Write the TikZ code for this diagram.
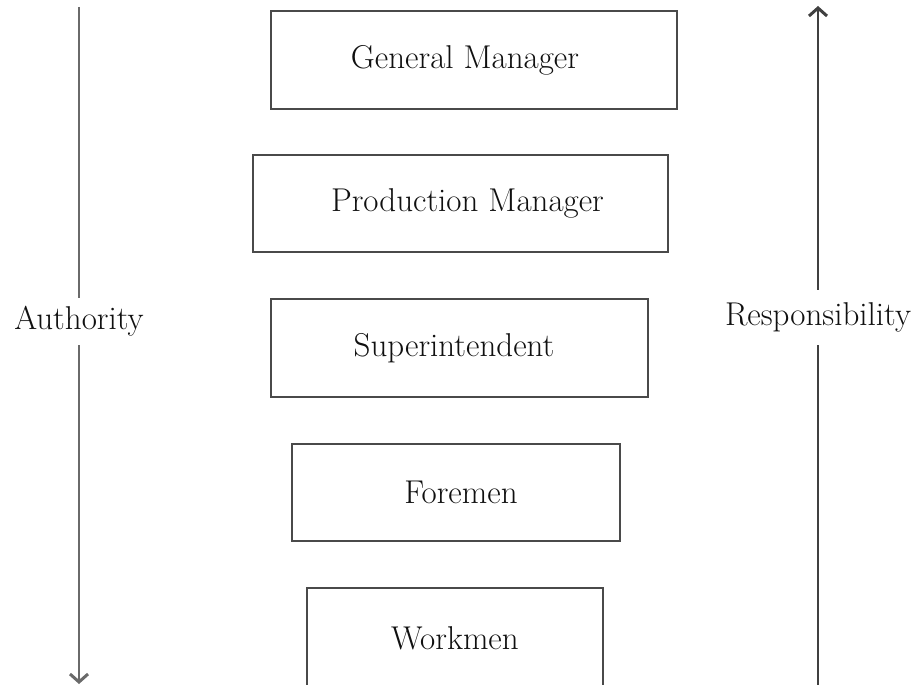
\documentclass[tikz,border=0pt]{standalone}
\usetikzlibrary{arrows.meta}
\definecolor{lineg}{HTML}{4A4A4A}
\definecolor{arrg}{HTML}{6A6A6A}
\definecolor{txt}{HTML}{101010}
\tikzset{
  box/.style={draw=lineg, line width=1.8pt, rectangle, inner sep=0pt,
    font=\fontsize{33}{37}\selectfont, text=txt},
  sidelbl/.style={inner sep=0pt, font=\fontsize{33}{37}\selectfont, text=txt},
  axis/.style={draw=arrg, line width=2.4pt},
  axtip/.style={-{Straight Barb[length=8pt,width=18pt,line width=3pt]}}
}
\begin{document}
\begin{tikzpicture}[x=1pt,y=-1pt]
\useasboundingbox (0,0) rectangle (918,685);
\clip (0,0) rectangle (918,685);
% boxes
\node[box, minimum width=406pt, minimum height=98pt] (gm) at (474,60) {\hspace*{-18pt}General Manager};
\node[box, minimum width=415pt, minimum height=97pt] (pm) at (460.5,203.5) {\hspace*{14pt}Production Manager};
\node[box, minimum width=377pt, minimum height=98pt] (si) at (459.5,348) {\hspace*{-11pt}Superintendent};
\node[box, minimum width=328pt, minimum height=97pt] (fm) at (456,492.5) {\hspace*{10pt}Foremen};
\node[box, minimum width=296pt, minimum height=100pt] (wm) at (455,638) {Workmen};
% left axis: Authority
\node[sidelbl, minimum height=47pt] (auth) at (79,321.5) {Authority};
\coordinate (aTop) at (79,7);
\coordinate (aBot) at (79,684);
\draw[axis] (aTop) -- (aTop |- auth.north);
\draw[axis, axtip] (aTop |- auth.south) -- (aBot);
% right axis: Responsibility
\node[sidelbl, minimum height=55pt] (resp) at (818,317.5) {Responsibility};
\coordinate (rTop) at (818,6);
\coordinate (rBot) at (818,690);
\draw[axis, draw=black!75, axtip] (rTop |- resp.north) -- (rTop);
\draw[axis, draw=black!75] (rBot) -- (rBot |- resp.south);
\end{tikzpicture}
\end{document}
